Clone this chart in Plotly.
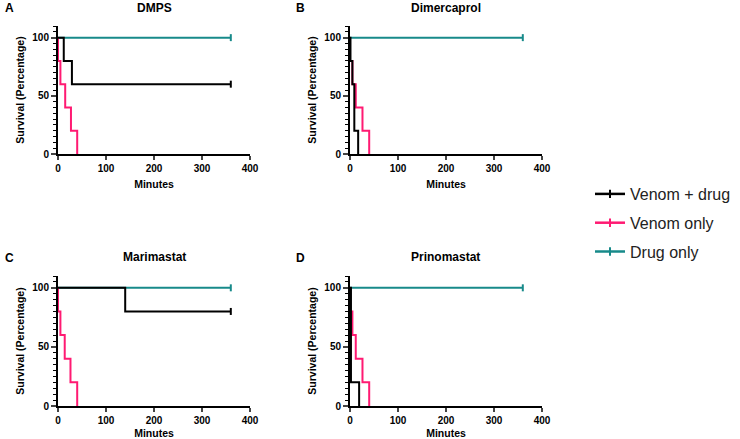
import plotly.graph_objects as go

# ---- data ----
panel_titles = ["DMPS", "Dimercaprol", "Marimastat", "Prinomastat"]
panel_letters = ["A", "B", "C", "D"]
series_names = ["Venom + drug", "Venom only", "Drug only"]

# step times (minutes) and survival (%) for each panel
venom_drug_t = [[0, 12, 29, 360], [0, 1, 5, 9, 17], [0, 140, 360], [0, 2, 19]]
venom_drug_s = [[100, 80, 60, 60], [100, 80, 60, 20, 0], [100, 80, 80], [100, 20, 0]]
venom_only_t = [[0, 0, 5, 15, 27, 40], [0, 0, 5, 12, 26, 40], [0, 0, 5, 14, 26, 40], [0, 0, 5, 12, 26, 40]]
venom_only_s = [[100, 80, 60, 40, 20, 0]] * 4
drug_only_t = [[0, 360]] * 4
drug_only_s = [[100, 100]] * 4

colors = {"Venom + drug": "#000000", "Venom only": "#FF1A72", "Drug only": "#178A8A"}

W, H = 740, 439
px_x = [(58, 250), (350, 542), (58, 250), (350, 542)]
px_y = [(26, 154), (26, 154), (276, 406), (276, 406)]

FONT = "Liberation Sans, Arial, sans-serif"

fig = go.Figure()

for i in range(4):
    xa = "x" if i == 0 else f"x{i+1}"
    ya = "y" if i == 0 else f"y{i+1}"
    data = [
        ("Drug only", drug_only_t[i], drug_only_s[i]),
        ("Venom only", venom_only_t[i], venom_only_s[i]),
        ("Venom + drug", venom_drug_t[i], venom_drug_s[i]),
    ]
    for name, t, s in data:
        fig.add_trace(go.Scatter(
            x=t, y=s, mode="lines", name=name,
            line=dict(color=colors[name], width=2, shape="hv"),
            xaxis=xa, yaxis=ya, showlegend=False, hoverinfo="x+y",
        ))
        if s[-1] > 0:
            # censor tick at the last observation
            fig.add_trace(go.Scatter(
                x=[t[-1]], y=[s[-1]], mode="markers", name=name,
                marker=dict(symbol="line-ns", size=5, line=dict(color=colors[name], width=2)),
                xaxis=xa, yaxis=ya, showlegend=False, hoverinfo="skip",
            ))
    x0, x1 = px_x[i]
    y0, y1 = px_y[i]
    xkey = "xaxis" if i == 0 else f"xaxis{i+1}"
    ykey = "yaxis" if i == 0 else f"yaxis{i+1}"
    fig.update_layout(**{
        xkey: dict(domain=[x0 / W, x1 / W], range=[0, 400], anchor=ya, automargin=False,
                   tickvals=[0, 100, 200, 300, 400], ticks="outside", ticklen=4, tickwidth=1.5,
                   showline=True, linecolor="black", linewidth=2, showgrid=False, zeroline=False,
                   tickfont=dict(family=FONT, size=10, color="black", weight="bold"),
                   title=dict(text="<b>Minutes</b>", font=dict(family=FONT, size=10.5, color="black"), standoff=8),
                   fixedrange=True),
        ykey: dict(domain=[1 - y1 / H, 1 - y0 / H], range=[0, 110], anchor=xa, automargin=False,
                   tickvals=[0, 50, 100], ticks="outside", ticklen=5, tickwidth=1.5,
                   minor=dict(dtick=5, tick0=0, ticks="outside", ticklen=3, tickwidth=1, tickcolor="black", showgrid=False),
                   showline=True, linecolor="black", linewidth=2, showgrid=False, zeroline=False,
                   tickfont=dict(family=FONT, size=10, color="black", weight="bold"),
                   title=dict(text="<b>Survival (Percentage)</b>", font=dict(family=FONT, size=10.5, color="black"), standoff=6),
                   fixedrange=True),
    })
    # panel title
    fig.add_annotation(x=(x0 + x1) / 2 / W, y=1 - (8 if i < 2 else 257) / H, xref="paper", yref="paper",
                       text=f"<b>{panel_titles[i]}</b>", showarrow=False,
                       font=dict(family=FONT, size=12, color="black"), xanchor="center", yanchor="middle")
    # panel letter
    fig.add_annotation(x=(3 if i % 2 == 0 else 294) / W, y=1 - (8 if i < 2 else 258) / H, xref="paper", yref="paper",
                       text=f"<b>{panel_letters[i]}</b>", showarrow=False,
                       font=dict(family=FONT, size=12, color="black"), xanchor="left", yanchor="middle")

# legend entries (line with censor tick)
for name in series_names:
    fig.add_trace(go.Scatter(
        x=[None], y=[None], mode="lines+markers", name=name,
        line=dict(color=colors[name], width=2.5),
        marker=dict(symbol="line-ns", size=6, line=dict(color=colors[name], width=2)),
        showlegend=True, legendgroup=name,
    ))

fig.update_layout(
    width=W, height=H, margin=dict(l=0, r=0, t=0, b=0),
    paper_bgcolor="white", plot_bgcolor="white",
    showlegend=True,
    legend=dict(x=590 / W, y=1 - 177 / H, xanchor="left", yanchor="top",
                font=dict(family=FONT, size=16, color="#222222"),
                traceorder="grouped", tracegroupgap=5, itemwidth=30,
                bgcolor="rgba(0,0,0,0)"),
)

fig.write_html("out.html", config={"displayModeBar": False},
               post_script="document.body.style.margin='0';document.body.style.overflow='hidden';")
